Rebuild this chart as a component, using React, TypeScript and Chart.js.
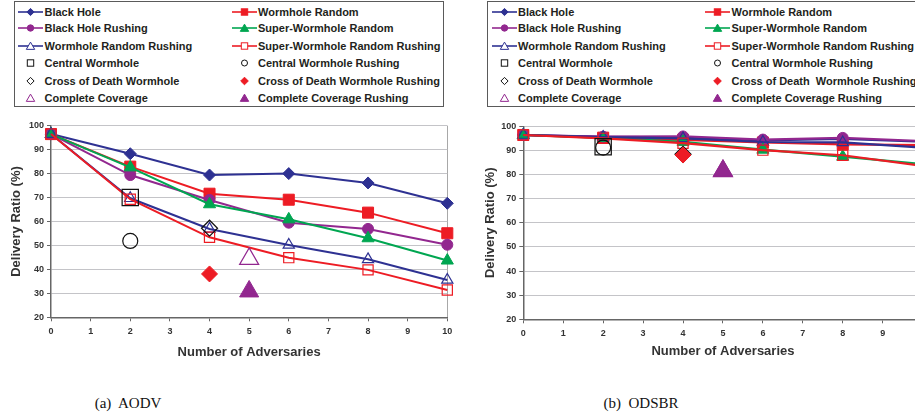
import React, { useEffect, useRef } from 'react';
import { Chart, registerables } from 'chart.js';

Chart.register(...registerables);

// ---------- data ----------
const X_POINTS = [0, 2, 4, 6, 8, 10];
const X_TICK_STEP = 1;
const Y_MIN = 20;
const Y_MAX = 100;
const Y_STEP = 10;

const LINE_NAMES = [
  'Black Hole',
  'Wormhole Random',
  'Black Hole Rushing',
  'Super-Wormhole Random',
  'Wormhole Random Rushing',
  'Super-Wormhole Random Rushing',
];
const SINGLE_NAMES_AODV = [
  'Central Wormhole',
  'Central Wormhole Rushing',
  'Cross of Death Wormhole',
  'Cross of Death Wormhole Rushing',
  'Complete Coverage',
  'Complete Coverage Rushing',
];
const SINGLE_NAMES_ODSBR = [
  'Central Wormhole',
  'Central Wormhole Rushing',
  'Cross of Death Wormhole',
  'Cross of Death  Wormhole Rushing',
  'Complete Coverage',
  'Complete Coverage Rushing',
];
const SINGLE_X = [2, 2, 4, 4, 5, 5];

// (a) AODV
const AODV_BLACK_HOLE = [96.5, 88.3, 79.4, 80.0, 76.1, 67.6];
const AODV_WORMHOLE_RANDOM = [96.5, 82.9, 71.6, 69.1, 63.7, 55.1];
const AODV_BLACK_HOLE_RUSHING = [96.5, 79.4, 69.0, 59.5, 56.9, 50.3];
const AODV_SUPER_WORMHOLE_RANDOM = [96.5, 82.6, 67.2, 60.9, 53.0, 43.7];
const AODV_WORMHOLE_RANDOM_RUSHING = [96.5, 69.7, 56.9, 50.2, 44.2, 35.6];
const AODV_SUPER_WORMHOLE_RANDOM_RUSHING = [96.5, 69.3, 53.4, 44.9, 39.8, 31.4];
const AODV_SINGLE_Y = [70.0, 51.9, 57.2, 38.1, 44.4, 30.8];

// (b) ODSBR
const ODSBR_BLACK_HOLE = [96.4, 95.6, 95.4, 94.2, 94.8, 93.6];
const ODSBR_WORMHOLE_RANDOM = [96.4, 95.3, 94.4, 93.3, 92.5, 92.2];
const ODSBR_BLACK_HOLE_RUSHING = [96.4, 95.7, 95.8, 94.5, 95.2, 93.9];
const ODSBR_SUPER_WORMHOLE_RANDOM = [96.4, 95.2, 93.6, 90.3, 87.4, 84.3];
const ODSBR_WORMHOLE_RANDOM_RUSHING = [96.4, 95.5, 95.0, 93.5, 93.3, 91.2];
const ODSBR_SUPER_WORMHOLE_RANDOM_RUSHING = [96.4, 95.0, 93.0, 90.1, 88.0, 83.6];
const ODSBR_SINGLE_Y = [91.5, 91.2, 88.4, 88.1, 81.4, 81.6];

const AODV_LINES = [
  AODV_BLACK_HOLE,
  AODV_WORMHOLE_RANDOM,
  AODV_BLACK_HOLE_RUSHING,
  AODV_SUPER_WORMHOLE_RANDOM,
  AODV_WORMHOLE_RANDOM_RUSHING,
  AODV_SUPER_WORMHOLE_RANDOM_RUSHING,
];
const ODSBR_LINES = [
  ODSBR_BLACK_HOLE,
  ODSBR_WORMHOLE_RANDOM,
  ODSBR_BLACK_HOLE_RUSHING,
  ODSBR_SUPER_WORMHOLE_RANDOM,
  ODSBR_WORMHOLE_RANDOM_RUSHING,
  ODSBR_SUPER_WORMHOLE_RANDOM_RUSHING,
];

// ---------- styles ----------
const BLUE = '#2E3192';
const RED = '#ED1C24';
const PURPLE = '#92278F';
const GREEN = '#00A651';
const BLACK = '#111111';
const TEXT = '#333333';

type Shape = 'rectRot' | 'rect' | 'circle' | 'triangle';
interface MarkStyle { color: string; shape: Shape; filled: boolean; radius: number; legendR: number; }

const LINE_STYLES: MarkStyle[] = [
  { color: BLUE, shape: 'rectRot', filled: true, radius: 6, legendR: 3.6 },
  { color: RED, shape: 'rect', filled: true, radius: 7.8, legendR: 3.2 },
  { color: PURPLE, shape: 'circle', filled: true, radius: 5.5, legendR: 3.2 },
  { color: GREEN, shape: 'triangle', filled: true, radius: 7, legendR: 4.2 },
  { color: BLUE, shape: 'triangle', filled: false, radius: 6.5, legendR: 4.2 },
  { color: RED, shape: 'rect', filled: false, radius: 7.2, legendR: 3.2 },
];
const SINGLE_STYLES: MarkStyle[] = [
  { color: BLACK, shape: 'rect', filled: false, radius: 11.5, legendR: 3.2 },
  { color: BLACK, shape: 'circle', filled: false, radius: 7.5, legendR: 3.0 },
  { color: BLACK, shape: 'rectRot', filled: false, radius: 8, legendR: 3.6 },
  { color: RED, shape: 'rectRot', filled: true, radius: 8, legendR: 3.8 },
  { color: PURPLE, shape: 'triangle', filled: false, radius: 11, legendR: 4.2 },
  { color: PURPLE, shape: 'triangle', filled: true, radius: 11, legendR: 4.2 },
];

const FONT_FAMILY = '"Liberation Sans", Arial, sans-serif';

interface Geom {
  left: number; width: number; yWidth: number; xHeight: number;
  padTop: number; padRight: number; yTitlePad: number; xTitlePad: number;
  lineWidth: number;
}

const TOP = 110;
const HEIGHT = 260;

const AODV_GEOM: Geom = {
  left: 0, width: 460, yWidth: 51, xHeight: 52.7, padTop: 15.7, padRight: 12.7,
  yTitlePad: 8.2, xTitlePad: 10.2, lineWidth: 2,
};
const ODSBR_GEOM: Geom = {
  left: 460, width: 470, yWidth: 63.3, xHeight: 50.7, padTop: 16.3, padRight: 7.4,
  yTitlePad: 22.2, xTitlePad: 10.5, lineWidth: 2.2,
};

function buildConfig(lines: number[][], singleY: number[], names: string[], g: Geom): any {
  const datasets: any[] = [];
  lines.forEach((vals, i) => {
    const s = LINE_STYLES[i];
    datasets.push({
      label: names[i],
      data: X_POINTS.map((x, j) => ({ x, y: vals[j] })),
      showLine: true,
      borderColor: s.color,
      borderWidth: g.lineWidth,
      backgroundColor: s.color,
      pointStyle: s.shape,
      pointRadius: s.radius,
      pointBackgroundColor: s.filled ? s.color : 'rgba(255,255,255,0)',
      pointBorderColor: s.color,
      pointBorderWidth: s.filled ? 1 : 1.2,
      clip: false,
      order: 20 - i,
    });
  });
  singleY.forEach((y, i) => {
    const s = SINGLE_STYLES[i];
    datasets.push({
      label: names[6 + i],
      data: [{ x: SINGLE_X[i], y }],
      showLine: false,
      borderColor: s.color,
      backgroundColor: s.color,
      pointStyle: s.shape,
      pointRadius: s.radius,
      pointBackgroundColor: s.filled ? s.color : 'rgba(255,255,255,0)',
      pointBorderColor: s.color,
      pointBorderWidth: s.filled ? 1 : 1.2,
      clip: false,
      order: 10 - i,
    });
  });

  const tickFont = { family: FONT_FAMILY, size: 9, weight: 'bold' as const };
  const titleFont = { family: FONT_FAMILY, size: 13, weight: 'bold' as const };

  return {
    type: 'scatter',
    data: { datasets },
    options: {
      animation: false,
      responsive: false,
      devicePixelRatio: 1,
      layout: { autoPadding: false, padding: { left: 0, top: g.padTop, right: g.padRight, bottom: 0 } },
      plugins: { legend: { display: false }, tooltip: { enabled: false } },
      elements: { line: { tension: 0 } },
      scales: {
        x: {
          type: 'linear',
          min: 0,
          max: 10,
          ticks: { stepSize: X_TICK_STEP, font: tickFont, color: TEXT, padding: 5, maxRotation: 0, autoSkip: false },
          grid: {
            color: (c: any) => (c.tick && c.tick.value === 10 ? '#a8a8a8' : 'rgba(0,0,0,0)'),
            tickColor: '#666666',
            tickLength: 4,
            lineWidth: 1,
          },
          border: { color: '#666666', width: 1.5 },
          title: {
            display: true,
            text: 'Number of Adversaries',
            font: titleFont,
            color: TEXT,
            padding: { top: 0, bottom: g.xTitlePad },
          },
          afterFit: (s: any) => {
            s.height = g.xHeight;
            s.paddingLeft = 0;
            s.paddingRight = 0;
          },
        },
        y: {
          type: 'linear',
          min: Y_MIN,
          max: Y_MAX,
          ticks: { stepSize: Y_STEP, font: tickFont, color: TEXT, padding: 3 },
          grid: { color: '#c4c4c8', tickColor: '#666666', tickLength: 4, lineWidth: 1 },
          border: { color: '#666666', width: 1.5 },
          title: {
            display: true,
            text: 'Delivery Ratio (%)',
            font: titleFont,
            color: TEXT,
            padding: { top: g.yTitlePad, bottom: 0 },
          },
          afterFit: (s: any) => {
            s.width = g.yWidth;
            s.paddingTop = 0;
            s.paddingBottom = 0;
          },
        },
      },
    },
  };
}

function Panel({ lines, singleY, names, g }: { lines: number[][]; singleY: number[]; names: string[]; g: Geom }) {
  const ref = useRef<HTMLCanvasElement>(null);
  useEffect(() => {
    if (!ref.current) return;
    const chart = new Chart(ref.current, buildConfig(lines, singleY, names, g));
    return () => chart.destroy();
  }, []);
  return (
    <div style={{ position: 'absolute', left: g.left, top: TOP, width: g.width, height: HEIGHT }}>
      <canvas ref={ref} width={g.width} height={HEIGHT} style={{ display: 'block', width: g.width, height: HEIGHT }} />
    </div>
  );
}

function LegendMarker({ s, line }: { s: MarkStyle; line: boolean }) {
  const cx = 12.5;
  const cy = 6;
  const r = s.legendR;
  const fill = s.filled ? s.color : '#ffffff';
  const sw = 1;
  let shape: React.ReactNode = null;
  if (s.shape === 'rectRot') {
    shape = <polygon points={`${cx},${cy - r} ${cx + r},${cy} ${cx},${cy + r} ${cx - r},${cy}`} fill={fill} stroke={s.color} strokeWidth={sw} />;
  } else if (s.shape === 'rect') {
    shape = <rect x={cx - r} y={cy - r} width={2 * r} height={2 * r} fill={fill} stroke={s.color} strokeWidth={sw} />;
  } else if (s.shape === 'circle') {
    shape = <circle cx={cx} cy={cy} r={r} fill={fill} stroke={s.color} strokeWidth={sw} />;
  } else {
    const h = r * 1.6;
    shape = <polygon points={`${cx},${cy - h / 2 - 0.5} ${cx + r},${cy + h / 2} ${cx - r},${cy + h / 2}`} fill={fill} stroke={s.color} strokeWidth={sw} />;
  }
  return (
    <svg width={25} height={12} style={{ position: 'absolute', left: 0, top: 0, overflow: 'visible' }}>
      {line && <line x1={0} y1={cy} x2={25} y2={cy} stroke={s.color} strokeWidth={1.6} />}
      {shape}
    </svg>
  );
}

const ROW_Y = [11.7, 28.4, 45.7, 63.3, 81, 98.3];

function Legend({ names, boxLeft, boxWidth, col1, col2 }: { names: string[]; boxLeft: number; boxWidth: number; col1: number; col2: number }) {
  const styles = [...LINE_STYLES, ...SINGLE_STYLES];
  const items = names.map((name, k) => {
    const row = Math.floor(k / 2);
    const colX = k % 2 === 0 ? col1 : col2;
    const isLine = k < 6;
    const cy = ROW_Y[row];
    return (
      <div key={k}>
        <div style={{ position: 'absolute', left: colX, top: cy - 6, width: 25, height: 12 }}>
          <LegendMarker s={styles[k]} line={isLine} />
        </div>
        <div
          style={{
            position: 'absolute',
            left: colX + 26.5,
            top: cy - 7,
            height: 14,
            lineHeight: '14px',
            fontFamily: FONT_FAMILY,
            fontWeight: 'bold',
            fontSize: 11,
            color: '#231F20',
            whiteSpace: 'pre',
          }}
        >
          {name}
        </div>
      </div>
    );
  });
  return (
    <>
      <div
        style={{
          position: 'absolute',
          left: boxLeft,
          top: 1,
          width: boxWidth,
          height: 106,
          border: '1.5px solid #5a5a5a',
          boxSizing: 'border-box',
        }}
      />
      {items}
    </>
  );
}

const CAPTION_STYLE: React.CSSProperties = {
  position: 'absolute',
  width: 200,
  top: 395,
  textAlign: 'center',
  fontFamily: '"Liberation Serif", "Times New Roman", serif',
  fontSize: 15,
  lineHeight: '17px',
  color: '#111',
  whiteSpace: 'pre',
};

export default function App() {
  const aodvNames = [...LINE_NAMES, ...SINGLE_NAMES_AODV];
  const odsbrNames = [...LINE_NAMES, ...SINGLE_NAMES_ODSBR];
  return (
    <div
      style={{
        position: 'fixed',
        left: 0,
        top: 0,
        width: 915,
        height: 417,
        overflow: 'hidden',
        background: '#ffffff',
      }}
    >
      <Legend names={aodvNames} boxLeft={14} boxWidth={429.5} col1={18} col2={231.5} />
      <Legend names={odsbrNames} boxLeft={487} boxWidth={460} col1={491.5} col2={705} />
      <Panel lines={AODV_LINES} singleY={AODV_SINGLE_Y} names={aodvNames} g={AODV_GEOM} />
      <Panel lines={ODSBR_LINES} singleY={ODSBR_SINGLE_Y} names={odsbrNames} g={ODSBR_GEOM} />
      <div style={{ ...CAPTION_STYLE, left: 28 }}>(a)  AODV</div>
      <div style={{ ...CAPTION_STYLE, left: 541 }}>(b)  ODSBR</div>
    </div>
  );
}
